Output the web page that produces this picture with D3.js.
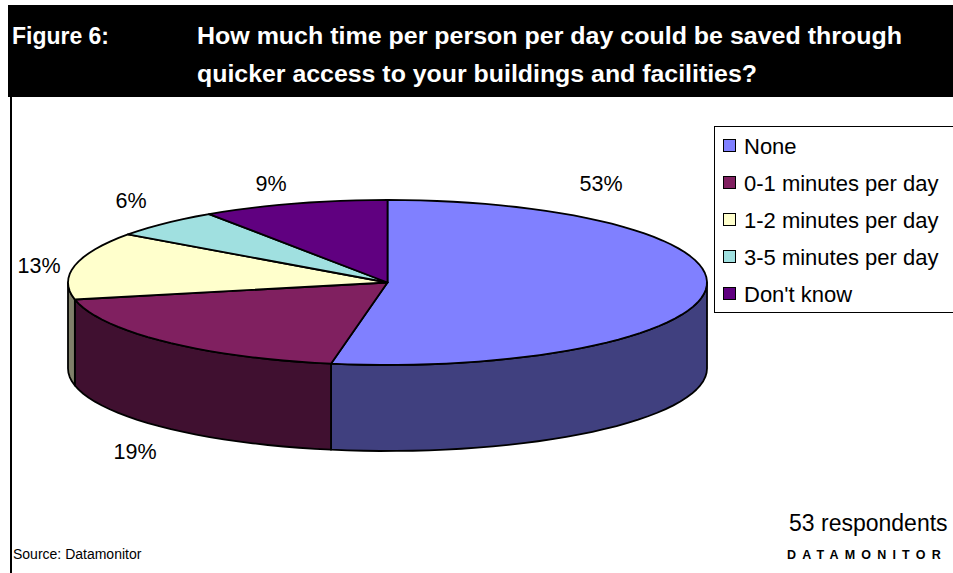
<!DOCTYPE html>
<html>
<head>
<meta charset="utf-8">
<script src="https://cdn.jsdelivr.net/npm/d3@7/dist/d3.min.js"></script>
<style>
html,body{margin:0;padding:0;background:#fff;}
svg{display:block;font-family:"Liberation Sans",Arial,sans-serif;}
</style>
</head>
<body>
<svg id="chart" width="953" height="573"></svg>
<script>
// ---- data ----
const categories = ["None", "0-1 minutes per day", "1-2 minutes per day", "3-5 minutes per day", "Don't know"];
const counts = [28, 10, 7, 3, 5];           // 53 respondents
const percentLabels = ["53%", "19%", "13%", "6%", "9%"];
const topColors = ["#8080FF", "#802060", "#FFFFCC", "#A0E0E0", "#600080"];
const sideColors = ["#40407F", "#401030", "#80806A", "#507070", "#300040"];
const titleLines = ["How much time per person per day could be saved through",
                    "quicker access to your buildings and facilities?"];

// ---- layout ----
const W = 953, H = 573;
const cx = 387.5, cy = 282.5, rx = 319.5, ry = 82.5, depth = 86;
const labelAnchors = [[601, 191], [135, 459], [39, 273], [131, 208], [271, 191]];
const titleWidths = [705, 560];

const svg = d3.select("#chart");

// header
svg.append("rect").attr("x", 8).attr("y", 5).attr("width", W - 8).attr("height", 92).attr("fill", "#000");
svg.append("text").attr("x", 12).attr("y", 44).attr("fill", "#fff")
  .attr("font-size", 23).attr("font-weight", "bold")
  .attr("textLength", 97).attr("lengthAdjust", "spacingAndGlyphs").text("Figure 6:");
svg.selectAll("text.title").data(titleLines).enter().append("text").attr("class", "title")
  .attr("x", 197).attr("y", (d, i) => 44 + i * 38).attr("fill", "#fff")
  .attr("font-size", 23).attr("font-weight", "bold")
  .attr("textLength", (d, i) => titleWidths[i]).attr("lengthAdjust", "spacingAndGlyphs")
  .text(d => d);

// left border
svg.append("rect").attr("x", 10).attr("y", 97).attr("width", 2).attr("height", H - 97).attr("fill", "#000");

// pie
const pie = d3.pie().sort(null).value(d => d).startAngle(0).endAngle(2 * Math.PI);
const arcs = pie(counts);
const P = (a, dy) => [cx + rx * Math.sin(a), cy - ry * Math.cos(a) + dy];
const N = 120;
const line = d3.line();

function samples(a0, a1, dy) {
  const n = Math.max(2, Math.ceil(N * (a1 - a0) / (2 * Math.PI)));
  return d3.range(n + 1).map(i => P(a0 + (a1 - a0) * i / n, dy));
}

const g = svg.append("g");
// sides (visible range: PI/2 .. 3PI/2)
arcs.forEach((d, i) => {
  const a0 = Math.max(d.startAngle, Math.PI / 2), a1 = Math.min(d.endAngle, 3 * Math.PI / 2);
  if (a1 <= a0) return;
  const pts = samples(a0, a1, 0).concat(samples(a0, a1, depth).reverse());
  g.append("path").attr("d", line(pts) + "Z")
    .attr("fill", sideColors[i]).attr("stroke", "#000").attr("stroke-width", 1.8).attr("stroke-linejoin", "round");
});
// tops
arcs.forEach((d, i) => {
  const pts = [[cx, cy]].concat(samples(d.startAngle, d.endAngle, 0));
  g.append("path").attr("d", line(pts) + "Z")
    .attr("fill", topColors[i]).attr("stroke", "#000").attr("stroke-width", 1.8).attr("stroke-linejoin", "round");
});

// percent labels
svg.selectAll("text.pct").data(percentLabels).enter().append("text").attr("class", "pct")
  .attr("x", (d, i) => labelAnchors[i][0]).attr("y", (d, i) => labelAnchors[i][1])
  .attr("text-anchor", "middle").attr("font-size", 21.5).attr("fill", "#000").text(d => d);

// legend
const lg = svg.append("g");
lg.append("rect").attr("x", 714.5).attr("y", 126.5).attr("width", 260).attr("height", 186)
  .attr("fill", "#fff").attr("stroke", "#000").attr("stroke-width", 1);
const rows = lg.selectAll("g.row").data(categories).enter().append("g")
  .attr("transform", (d, i) => `translate(723,${146 + i * 37})`);
rows.append("rect").attr("x", 0.5).attr("y", -6.5).attr("width", 12).attr("height", 12)
  .attr("fill", (d, i) => topColors[i]).attr("stroke", "#000").attr("stroke-width", 1);
rows.append("text").attr("x", 21).attr("y", 7.5).attr("font-size", 22).text(d => d);

// footer texts
svg.append("text").attr("x", 789).attr("y", 531).attr("font-size", 23).text("53 respondents");
svg.append("text").attr("x", 13).attr("y", 559).attr("font-size", 14).text("Source: Datamonitor");
svg.append("text").attr("x", 787).attr("y", 559).attr("font-size", 12.5).attr("font-weight", "bold")
  .attr("letter-spacing", 6.2).text("DATAMONITOR");
</script>
</body>
</html>
